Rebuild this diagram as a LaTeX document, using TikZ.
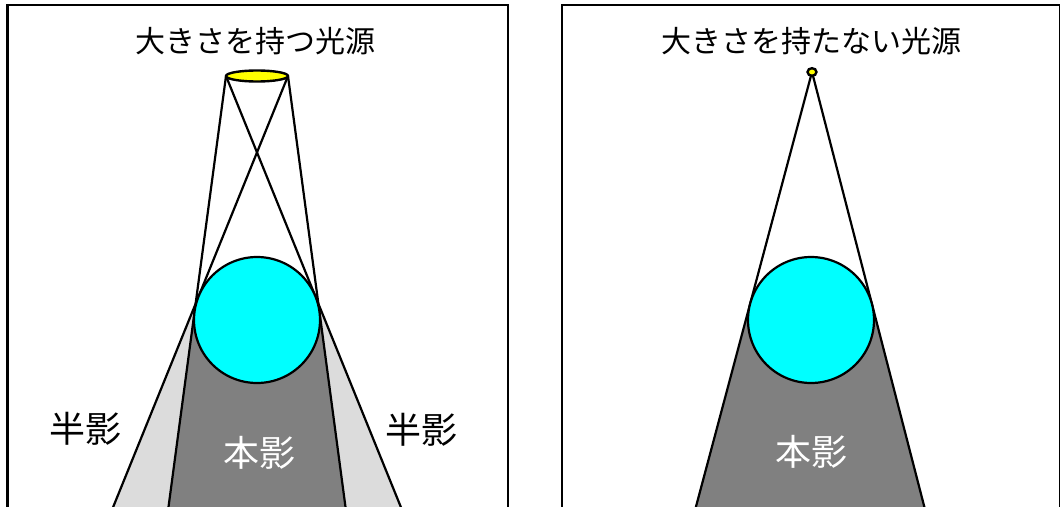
\documentclass[tikz,border=0pt]{standalone}
\usepackage{fontspec}
\newfontfamily\jpfont{Noto Sans CJK JP}
\usetikzlibrary{calc,backgrounds}

\definecolor{umbra}{HTML}{808080}
\definecolor{penumbra}{HTML}{DCDCDC}
\definecolor{ballcol}{HTML}{00FFFF}
\definecolor{lampcol}{HTML}{FFFF00}

\begin{document}
\begin{tikzpicture}[x=1pt, y=-1pt,
  frame/.style={draw, line width=2.6pt},
  ray/.style={draw, line width=2.2pt, line join=round},
  ball/.style={circle, draw, line width=2.2pt, fill=ballcol, minimum size=126pt, inner sep=0pt, outer sep=0pt},
  lamp/.style={draw, line width=2.4pt, fill=lampcol},
  title/.style={font=\jpfont\fontsize{30}{30}\selectfont},
  tag/.style={font=\jpfont\fontsize{36}{36}\selectfont}]
\useasboundingbox (0,0) rectangle (1060,506);
\clip (0,0) rectangle (1060,506);

% extended light source
\node[ball] (b1) at (257,320) {};
\coordinate (sL) at (226,76);
\coordinate (sR) at (288,76);
\coordinate (uL) at (tangent cs:node=b1, point={(sL)}, solution=1);
\coordinate (pR) at (tangent cs:node=b1, point={(sL)}, solution=2);
\coordinate (uR) at (tangent cs:node=b1, point={(sR)}, solution=2);
\coordinate (pL) at (tangent cs:node=b1, point={(sR)}, solution=1);
\coordinate (xL) at (intersection of sL--uL and sR--pL);
\coordinate (xR) at (intersection of sR--uR and sL--pR);
\begin{scope}[on background layer]
  \fill[penumbra] (xL) -- ($(sR)!3!(pL)$) -- ($(sL)!3!(uL)$) -- cycle;
  \fill[penumbra] (xR) -- ($(sL)!3!(pR)$) -- ($(sR)!3!(uR)$) -- cycle;
  \fill[umbra] (uL) -- ($(sL)!3!(uL)$) -- ($(sR)!3!(uR)$) -- (uR) -- cycle;
  \foreach \s/\t in {sL/uL,sL/pR,sR/uR,sR/pL}
    \draw[ray] (\s) -- ($(\s)!3!(\t)$);
\end{scope}
\draw[lamp] (257,76) ellipse [x radius=31, y radius=5.5];
\node[title] (t1) at (255,41) {大きさを持つ光源};
\node[tag] (h1) at (85,429) {半影};
\node[tag] (h2) at (421,430) {半影};
\node[tag, text=white] (m1) at (259,453) {本影};
\draw[frame] (7.5,5) rectangle (508,530);

% point light source
\node[ball] (b2) at (811,320) {};
\coordinate (s0) at (812,72);
\coordinate (u1) at (tangent cs:node=b2, point={(s0)}, solution=1);
\coordinate (u2) at (tangent cs:node=b2, point={(s0)}, solution=2);
\begin{scope}[on background layer]
  \fill[umbra] (u1) -- ($(s0)!3!(u1)$) -- ($(s0)!3!(u2)$) -- (u2) -- cycle;
  \foreach \t in {u1,u2}
    \draw[ray] (s0) -- ($(s0)!3!(\t)$);
\end{scope}
\draw[lamp] (s0) ellipse [x radius=4.5, y radius=3.8];
\node[title] (t2) at (811,41) {大きさを持たない光源};
\node[tag, text=white] (m2) at (811,452) {本影};
\draw[frame] (562,5) rectangle (1060,530);
\end{tikzpicture}
\end{document}
